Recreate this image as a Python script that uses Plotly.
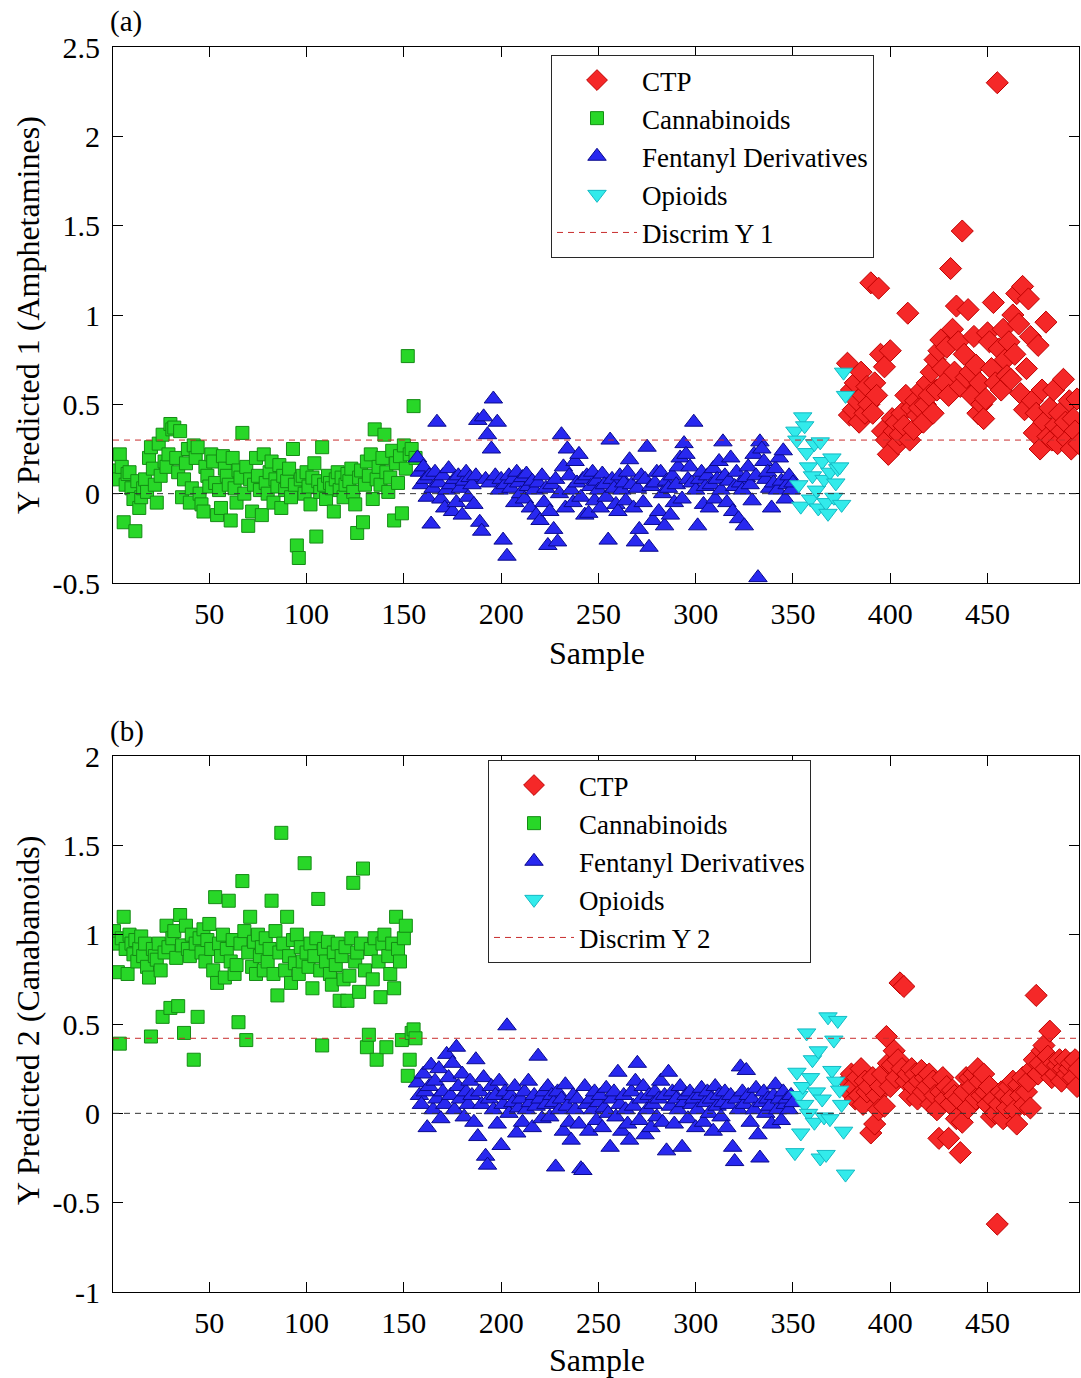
import plotly.graph_objects as go
from plotly.subplots import make_subplots

# ---------------- data ----------------
cann_start, fent_start, opi_start, ctp_start, last_sample = 1, 157, 351, 378, 497

discrim_y1 = 0.30
discrim_y2 = 0.42

a_cann = [0.10, 0.13, 0.08, 0.22, 0.15, -0.16, 0.05, 0.11, 0.12, 0.03,
          -0.03, -0.21, 0.07, -0.08, -0.02, 0.03, 0.08, 0.01, 0.20, 0.26,
          0.14, 0.05, -0.05, 0.28, 0.10, 0.33, 0.18, 0.15, 0.22, 0.39,
          0.36, 0.37, 0.20, 0.12, 0.35, -0.02, 0.08, 0.17, 0.25, -0.05,
          0.03, 0.27, 0.20, 0.26, 0.00, -0.06, -0.10, 0.15, 0.10, 0.04,
          0.22, 0.18, 0.06, -0.12, 0.02, -0.08, 0.21, 0.14, 0.10, 0.05,
          -0.15, 0.20, 0.03, -0.05, 0.13, 0.09, 0.34, 0.00, 0.15, -0.18,
          0.08, -0.10, 0.05, 0.20, 0.10, 0.02, -0.12, 0.22, 0.06, 0.00,
          0.12, 0.18, -0.05, 0.08, 0.04, 0.16, -0.08, 0.10, 0.02, 0.07,
          0.14, -0.02, 0.25, 0.05, -0.29, -0.36, 0.08, 0.10, 0.00, 0.12,
          0.04, -0.06, 0.09, 0.17, -0.24, 0.07, 0.01, 0.26, 0.05, -0.03,
          0.10, 0.06, 0.03, -0.10, 0.08, 0.12, 0.02, 0.09, -0.02, 0.05,
          0.11, 0.07, 0.14, 0.01, -0.06, -0.22, 0.09, 0.13, -0.16, 0.05,
          0.18, 0.10, 0.22, -0.03, 0.36, 0.08, 0.15, 0.05, 0.20, 0.33,
          0.12, 0.01, 0.09, 0.24, -0.15, 0.17, 0.06, 0.21, -0.11, 0.27,
          0.14, 0.77, 0.22, 0.25, 0.49, 0.20]

a_fent = [0.20, 0.12, 0.05, 0.15, 0.08, -0.02, 0.10, -0.17, 0.03, 0.12,
          0.40, 0.06, -0.03, 0.10, -0.08, 0.02, 0.14, 0.05, -0.10, 0.08,
          -0.05, 0.10, 0.03, -0.12, 0.07, 0.12, -0.02, 0.09, 0.05, -0.06,
          0.10, 0.41, -0.16, -0.21, 0.43, 0.08, 0.33, 0.06, 0.25, 0.53,
          0.10, 0.40, 0.02, 0.08, -0.26, 0.05, -0.35, 0.10, 0.03, 0.08,
          -0.05, 0.12, 0.06, 0.00, 0.09, -0.03, 0.11, 0.04, -0.08, 0.07,
          0.02, -0.12, 0.06, -0.15, 0.10, -0.05, 0.03, -0.29, -0.10, 0.05,
          -0.20, 0.08, -0.27, 0.00, 0.33, 0.15, -0.08, 0.25, 0.10, 0.02,
          -0.05, 0.18, 0.06, 0.22, -0.02, 0.08, -0.12, 0.10, -0.11, 0.04,
          0.12, -0.04, 0.07, 0.02, -0.08, 0.11, 0.05, -0.02, -0.26, 0.30,
          0.08, 0.03, -0.06, -0.10, 0.10, 0.02, 0.06, -0.04, 0.12, 0.19,
          0.05, -0.08, -0.27, 0.03, -0.20, 0.10, -0.05, 0.08, 0.26, -0.30,
          0.04, -0.15, 0.06, 0.12, -0.10, 0.12, 0.00, -0.18, 0.07, 0.03,
          -0.12, 0.10, -0.05, 0.05, 0.15, 0.20, -0.03, 0.28, 0.22, 0.08,
          0.15, 0.06, 0.40, 0.02, -0.18, 0.08, 0.12, -0.06, 0.04, 0.10,
          -0.08, 0.05, 0.14, -0.03, 0.08, 0.18, 0.02, 0.29, 0.10, -0.05,
          0.07, 0.20, -0.10, 0.04, 0.12, -0.14, 0.06, 0.02, -0.18, 0.09,
          0.15, 0.05, -0.04, 0.22, 0.10, -0.47, 0.29, 0.25, 0.18, 0.08,
          0.12, 0.03, -0.08, 0.06, 0.14, 0.02, 0.20, 0.07, 0.24, -0.03,
          0.05, 0.10, 0.02, 0.06]

a_opi = [0.35, 0.30, 0.05, -0.07, 0.43, 0.38, 0.23, 0.15, -0.03, 0.10,
         0.28, 0.02, -0.08, 0.29, 0.18, 0.08, -0.05, -0.11, 0.12, 0.20,
         -0.02, 0.06, 0.14, 0.15, -0.06, 0.68, 0.55]

a_ctp = [0.73, 0.44, 0.58, 0.47, 0.62, 0.52, 0.40, 0.68, 0.55, 0.45,
         0.60, 0.50, 1.18, 0.45, 0.62, 0.55, 1.15, 0.78, 0.35, 0.71,
         0.30, 0.22, 0.80, 0.42, 0.35, 0.40, 0.28, 0.33, 0.45, 0.38,
         0.55, 1.01, 0.30, 0.48, 0.36, 0.52, 0.44, 0.48, 0.58, 0.40,
         0.50, 0.62, 0.55, 0.68, 0.45, 0.75, 0.58, 0.80, 0.86, 0.70,
         0.62, 0.82, 0.55, 1.26, 0.92, 0.68, 1.05, 0.85, 0.60, 1.47,
         0.78, 0.65, 1.03, 0.68, 0.55, 0.88, 0.72, 0.45, 0.62, 0.50,
         0.42, 0.53, 0.90, 0.85, 0.70, 1.07, 0.62, 2.30, 0.81, 0.58,
         0.92, 0.75, 0.66, 0.85, 0.64, 1.00, 0.78, 1.12, 0.95, 0.56,
         1.16, 0.47, 0.70, 1.09, 0.88, 0.52, 0.34, 0.45, 0.83, 0.25,
         0.58, 0.40, 0.96, 0.32, 0.48, 0.30, 0.58, 0.38, 0.28, 0.45,
         0.35, 0.64, 0.40, 0.30, 0.52, 0.25, 0.42, 0.35, 0.53, 0.28]

b_cann = [1.02, 0.95, 0.79, 0.39, 0.98, 1.10, 0.92, 0.78, 1.00, 0.95,
          0.89, 0.97, 0.85, 0.92, 0.99, 0.88, 0.95, 0.82, 0.76, 0.43,
          0.92, 0.88, 0.86, 0.95, 0.80, 0.54, 0.90, 1.05, 0.93, 0.59,
          0.98, 1.02, 0.87, 0.60, 1.11, 0.94, 0.45, 1.05, 0.92, 0.88,
          1.00, 0.30, 0.95, 0.54, 0.98, 0.90, 1.03, 0.85, 0.97, 1.06,
          0.92, 0.80, 1.21, 0.73, 0.95, 0.88, 1.00, 0.76, 0.92, 1.19,
          0.85, 0.97, 0.78, 0.83, 0.51, 0.95, 1.30, 1.02, 0.41, 0.90,
          1.10, 0.82, 0.96, 0.78, 1.00, 0.88, 0.93, 0.80, 0.98, 0.85,
          0.92, 1.19, 0.78, 1.02, 0.66, 0.90, 1.57, 0.95, 0.80, 1.10,
          0.88, 0.73, 0.97, 0.84, 1.00, 0.78, 0.93, 0.85, 1.40, 0.90,
          0.82, 0.95, 0.70, 0.88, 0.98, 1.20, 0.80, 0.38, 0.92, 0.85,
          0.96, 0.78, 0.72, 0.90, 0.83, 0.95, 0.63, 0.88, 0.75, 0.93,
          0.63, 0.77, 0.98, 1.29, 0.85, 0.90, 0.68, 0.95, 1.37, 0.80,
          0.37, 0.44, 0.92, 0.75, 0.98, 0.30, 0.85, 0.65, 0.95, 1.00,
          0.37, 0.88, 0.78, 0.95, 0.70, 1.10, 0.92, 0.85, 0.41, 0.98,
          1.05, 0.21, 0.30, 0.45, 0.47, 0.42]

b_fent = [0.17, 0.10, 0.05, 0.22, 0.12, -0.08, 0.15, 0.27, 0.02, 0.18,
          0.08, 0.25, -0.03, 0.12, 0.05, 0.33, 0.20, 0.10, 0.28, 0.02,
          0.37, 0.15, 0.08, 0.22, -0.02, 0.12, 0.05, 0.18, 0.10, -0.05,
          0.30, -0.13, 0.12, 0.05, 0.20, -0.24, -0.29, 0.08, 0.15, 0.02,
          0.10, -0.06, 0.18, -0.18, 0.05, 0.12, 0.49, 0.00, 0.10, 0.06,
          0.15, -0.11, 0.03, 0.08, -0.05, 0.12, 0.02, 0.18, 0.06, -0.08,
          0.10, 0.04, 0.32, 0.08, -0.03, 0.12, 0.05, 0.15, -0.02, 0.10,
          0.06, -0.30, 0.12, 0.02, 0.08, -0.10, 0.16, 0.04, -0.05, -0.15,
          0.10, 0.02, 0.08, -0.06, -0.31, -0.32, 0.15, 0.05, -0.10, 0.08,
          0.02, 0.12, -0.04, 0.06, 0.10, -0.08, 0.03, 0.14, 0.00, -0.19,
          0.08, 0.12, -0.02, 0.23, 0.05, -0.10, 0.10, 0.02, -0.06, -0.15,
          0.12, 0.04, 0.18, 0.28, -0.04, 0.08, 0.15, -0.12, 0.02, 0.10,
          -0.08, 0.05, 0.12, -0.02, 0.08, 0.18, -0.05, 0.10, -0.21, 0.23,
          0.04, 0.12, -0.06, 0.08, 0.02, 0.15, -0.19, 0.06, 0.10, -0.03,
          0.12, 0.05, 0.08, -0.08, 0.02, 0.10, 0.14, -0.05, 0.06, 0.12,
          0.00, 0.08, -0.10, 0.15, 0.04, 0.10, -0.02, 0.06, 0.12, -0.08,
          0.05, 0.10, -0.19, -0.27, 0.08, 0.02, 0.26, 0.12, 0.05, 0.24,
          0.10, -0.05, 0.08, 0.02, 0.14, -0.12, -0.25, 0.06, 0.12, 0.00,
          0.08, 0.04, -0.06, 0.10, 0.16, 0.02, 0.08, -0.04, 0.12, 0.05,
          0.08, 0.02, 0.10, 0.06]

b_opi = [-0.22, 0.23, 0.10, -0.11, 0.15, 0.05, 0.45, 0.00, 0.20, 0.30,
         -0.05, 0.12, 0.35, -0.25, 0.08, -0.02, -0.23, 0.54, -0.03, 0.24,
         0.41, 0.18, 0.52, 0.13, 0.05, -0.10, -0.34]

b_ctp = [0.18, 0.12, 0.22, 0.15, 0.08, 0.20, 0.10, 0.25, 0.05, 0.18,
         0.12, 0.15, -0.11, 0.20, -0.06, 0.10, 0.02, 0.15, 0.22, 0.04,
         0.43, 0.28, 0.15, 0.27, 0.35, 0.20, 0.30, 0.73, 0.25, 0.71,
         0.18, 0.22, 0.10, 0.25, 0.15, 0.22, 0.08, 0.18, 0.24, 0.12,
         0.20, 0.15, 0.22, 0.05, 0.18, 0.10, 0.02, -0.14, 0.12, 0.20,
         0.08, 0.15, -0.14, 0.05, 0.13, 0.10, -0.03, 0.08, -0.22, -0.05,
         0.12, 0.20, 0.03, 0.20, 0.15, 0.22, 0.08, 0.25, 0.18, 0.10,
         0.22, 0.12, 0.05, 0.15, -0.02, 0.08, 0.00, -0.62, 0.05, 0.12,
         -0.03, 0.10, 0.03, 0.15, 0.08, 0.18, 0.02, -0.06, 0.16, 0.10,
         0.20, 0.05, 0.12, 0.18, 0.03, 0.25, 0.30, 0.66, 0.22, 0.28,
         0.35, 0.38, 0.25, 0.32, 0.46, 0.20, 0.28, 0.22, 0.27, 0.30,
         0.18, 0.25, 0.30, 0.22, 0.25, 0.28, 0.20, 0.30, 0.15, 0.25]

x_ticks = [50, 100, 150, 200, 250, 300, 350, 400, 450]
ya_ticks = [-0.5, 0, 0.5, 1, 1.5, 2, 2.5]
ya_text = ["-0.5", "0", "0.5", "1", "1.5", "2", "2.5"]
yb_ticks = [-1, -0.5, 0, 0.5, 1, 1.5, 2]
yb_text = ["-1", "-0.5", "0", "0.5", "1", "1.5", "2"]

# ---------------- figure ----------------
FONT = "Liberation Serif, Times New Roman, serif"
W, H = 1081, 1378
ML, MR, MT, MB = 113, 2, 47, 86
PW = W - ML - MR
PH = H - MT - MB

def px_x(p):
    return (p - ML) / PW

def px_y(p):
    return (H - MB - p) / PH

fig = make_subplots(rows=2, cols=1, vertical_spacing=0.0)

def xs(start, vals):
    return list(range(start, start + len(vals)))

styles = {
    "CTP": dict(symbol="diamond", size=17, color="rgb(245,40,40)", line=dict(color="rgb(190,0,0)", width=1)),
    "Cannabinoids": dict(symbol="square", size=13, color="rgb(40,215,40)", line=dict(color="rgb(20,140,20)", width=1)),
    "Fentanyl Derivatives": dict(symbol="triangle-up", size=16, color="rgb(40,40,240)", line=dict(color="rgb(10,10,140)", width=1)),
    "Opioids": dict(symbol="triangle-down", size=16, color="rgb(50,235,235)", line=dict(color="rgb(20,185,195)", width=1)),
}

panels = [
    (1, "legend", [("CTP", ctp_start, a_ctp), ("Cannabinoids", cann_start, a_cann),
                   ("Fentanyl Derivatives", fent_start, a_fent), ("Opioids", opi_start, a_opi)],
     discrim_y1, "Discrim Y 1"),
    (2, "legend2", [("CTP", ctp_start, b_ctp), ("Cannabinoids", cann_start, b_cann),
                    ("Fentanyl Derivatives", fent_start, b_fent), ("Opioids", opi_start, b_opi)],
     discrim_y2, "Discrim Y 2"),
]

x0, x1 = 0.5, last_sample
for row, leg, groups, dval, dname in panels:
    for name, start, vals in groups:
        fig.add_trace(go.Scatter(x=xs(start, vals), y=vals, mode="markers", name=name,
                                 marker=styles[name], legend=leg), row=row, col=1)
    fig.add_trace(go.Scatter(x=[x0, x1], y=[dval, dval], mode="lines", name=dname,
                             line=dict(color="rgb(200,45,45)", width=1, dash="6px,5px"),
                             legend=leg), row=row, col=1)
    # zero reference line (not in legend)
    fig.add_hline(y=0, line=dict(color="rgb(50,50,50)", width=1, dash="6px,5px"),
                  layer="above", row=row, col=1)

axis_common = dict(showline=True, linecolor="black", linewidth=1, mirror="ticks",
                   ticks="inside", ticklen=10, tickcolor="black", showgrid=False,
                   zeroline=False, automargin=False,
                   tickfont=dict(family=FONT, size=30, color="black"))

fig.update_xaxes(range=[x0, x1], tickvals=x_ticks, ticklabelstandoff=4, **axis_common)
fig.update_yaxes(ticklabelstandoff=6, **axis_common)
fig.update_layout(
    xaxis=dict(domain=[0, 1]), xaxis2=dict(domain=[0, 1]),
    yaxis=dict(domain=[px_y(583), 1.0], range=[-0.5, 2.5], tickvals=ya_ticks, ticktext=ya_text),
    yaxis2=dict(domain=[0.0, px_y(756)], range=[-1, 2], tickvals=yb_ticks, ticktext=yb_text),
)

leg_common = dict(font=dict(family=FONT, size=27, color="black"), bgcolor="white",
                  bordercolor="rgb(40,40,40)", borderwidth=1, xanchor="left", yanchor="top",
                  itemwidth=80, tracegroupgap=0, traceorder="normal")
fig.update_layout(
    legend=dict(x=px_x(551), y=px_y(55), **leg_common),
    legend2=dict(x=px_x(488), y=px_y(760), **leg_common),
)

title_font = dict(family=FONT, size=32, color="black")
texts = [
    ("Sample", px_x(597), px_y(653), 0),
    ("Sample", px_x(597), px_y(1360), 0),
    ("Y Predicted 1 (Amphetamines)", px_x(28), px_y(315), -90),
    ("Y Predicted 2 (Canabanoids)", px_x(28), px_y(1021), -90),
]
for t, ax, ay, ang in texts:
    fig.add_annotation(text=t, xref="paper", yref="paper", x=ax, y=ay, xanchor="center",
                       yanchor="middle", textangle=ang, showarrow=False, font=title_font)

for t, py in [("(a)", 22), ("(b)", 731)]:
    fig.add_annotation(text=t, xref="paper", yref="paper", x=px_x(108), y=px_y(py),
                       xanchor="left", yanchor="middle", showarrow=False,
                       font=dict(family=FONT, size=29, color="black"))

fig.update_layout(width=W, height=H, margin=dict(l=ML, r=MR, t=MT, b=MB, autoexpand=False),
                  paper_bgcolor="white", plot_bgcolor="white", showlegend=True)

fig.write_html("out.html", config={"displayModeBar": False},
               post_script="document.body.style.margin='0';document.body.style.padding='0';"
                           "document.documentElement.style.overflow='hidden';")
